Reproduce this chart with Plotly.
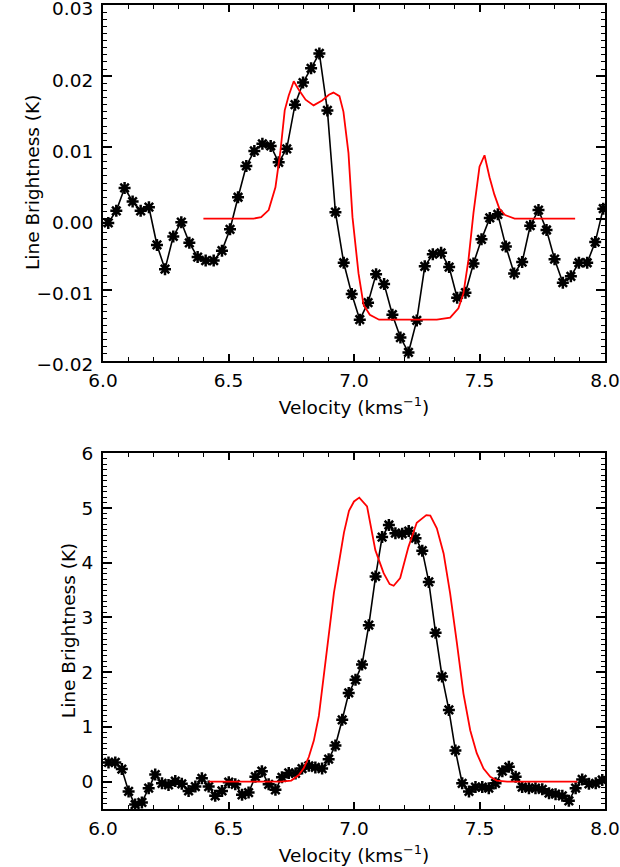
import plotly.graph_objects as go

# painel superior: espectro observado (asteriscos) e modelo (vermelho)
vel_sup = [6.021, 6.053, 6.086, 6.118, 6.150, 6.183, 6.215, 6.247, 6.280, 6.312,
           6.344, 6.377, 6.409, 6.441, 6.474, 6.506, 6.538, 6.571, 6.603, 6.635,
           6.668, 6.700, 6.732, 6.765, 6.797, 6.829, 6.862, 6.894, 6.926, 6.959,
           6.991, 7.023, 7.056, 7.088, 7.120, 7.153, 7.185, 7.217, 7.250, 7.282,
           7.314, 7.347, 7.379, 7.411, 7.444, 7.476, 7.508, 7.541, 7.573, 7.605,
           7.638, 7.670, 7.702, 7.735, 7.767, 7.799, 7.832, 7.864, 7.896, 7.929,
           7.961, 7.993]
tb_sup = [-0.0006, 0.0011, 0.0043, 0.0024, 0.0011, 0.0016, -0.0037, -0.0071, -0.0025, -0.0005,
          -0.0034, -0.0054, -0.0059, -0.0059, -0.0045, -0.0015, 0.0030, 0.0074, 0.0095, 0.0105,
          0.0102, 0.0079, 0.0098, 0.0160, 0.0191, 0.0211, 0.0232, 0.0152, 0.0009, -0.0062,
          -0.0106, -0.0142, -0.0118, -0.0078, -0.0092, -0.0135, -0.0167, -0.0188, -0.0143, -0.0067,
          -0.0050, -0.0048, -0.0068, -0.0111, -0.0104, -0.0063, -0.0029, 0.0001, 0.0006, -0.0039,
          -0.0077, -0.0061, -0.0010, 0.0012, -0.0016, -0.0057, -0.0090, -0.0081, -0.0062, -0.0062,
          -0.0033, 0.0014]

vel_mod_sup = [6.40, 6.60, 6.63, 6.66, 6.687, 6.707, 6.724, 6.740, 6.760, 6.780,
               6.807, 6.839, 6.873, 6.900, 6.918, 6.942, 6.958, 6.978, 6.994, 7.018,
               7.038, 7.063, 7.10, 7.33, 7.383, 7.416, 7.436, 7.456, 7.476, 7.500,
               7.520, 7.540, 7.559, 7.579, 7.602, 7.64, 7.881]
tb_mod_sup = [0.0, 0.0, 0.0002, 0.0012, 0.0044, 0.0095, 0.0152, 0.0173, 0.0193, 0.0181,
              0.0167, 0.0159, 0.0166, 0.0174, 0.0177, 0.0172, 0.0150, 0.0092, 0.0002, -0.0077,
              -0.0121, -0.0135, -0.0142, -0.0142, -0.0139, -0.0126, -0.0105, -0.0058, 0.0008, 0.0073,
              0.0089, 0.0058, 0.0034, 0.0014, 0.0005, 0.0, 0.0]

# painel inferior
vel_inf = [6.022, 6.049, 6.075, 6.102, 6.128, 6.155, 6.182, 6.208, 6.235, 6.261,
           6.288, 6.314, 6.341, 6.368, 6.394, 6.421, 6.447, 6.474, 6.501, 6.527,
           6.554, 6.580, 6.607, 6.633, 6.660, 6.687, 6.713, 6.740, 6.767, 6.793,
           6.820, 6.846, 6.873, 6.899, 6.926, 6.953, 6.979, 7.006, 7.032, 7.059,
           7.086, 7.112, 7.139, 7.165, 7.192, 7.218, 7.245, 7.272, 7.298, 7.325,
           7.351, 7.378, 7.404, 7.431, 7.458, 7.484, 7.511, 7.537, 7.564, 7.591,
           7.617, 7.644, 7.670, 7.697, 7.723, 7.750, 7.777, 7.803, 7.830, 7.856,
           7.883, 7.909, 7.936, 7.963, 7.989]
tb_inf = [0.35, 0.35, 0.23, -0.18, -0.42, -0.38, -0.12, 0.13, -0.03, -0.06,
          0.01, -0.04, -0.17, -0.09, 0.06, -0.09, -0.26, -0.17, -0.01, -0.05,
          -0.24, -0.20, 0.09, 0.19, -0.05, -0.15, 0.08, 0.16, 0.15, 0.24,
          0.29, 0.26, 0.24, 0.41, 0.66, 1.13, 1.62, 1.86, 2.14, 2.86,
          3.75, 4.47, 4.69, 4.54, 4.53, 4.58, 4.45, 4.22, 3.65, 2.72,
          1.92, 1.31, 0.57, -0.03, -0.18, -0.10, -0.10, -0.12, -0.03, 0.19,
          0.27, 0.09, -0.10, -0.12, -0.12, -0.14, -0.21, -0.23, -0.26, -0.35,
          -0.12, 0.04, -0.04, -0.03, 0.03]

vel_mod_inf = [6.421, 6.71, 6.75, 6.78, 6.80, 6.82, 6.84, 6.86, 6.88, 6.90,
               6.92, 6.94, 6.96, 6.98, 7.00, 7.021, 7.052, 7.085, 7.118, 7.142,
               7.158, 7.184, 7.217, 7.250, 7.288, 7.304, 7.330, 7.357, 7.383, 7.410,
               7.436, 7.463, 7.489, 7.516, 7.543, 7.569, 7.61, 7.89]
tb_mod_inf = [0.0, 0.0, 0.02, 0.12, 0.25, 0.45, 0.75, 1.20, 1.95, 2.75,
              3.45, 4.00, 4.55, 4.95, 5.12, 5.19, 5.03, 4.23, 3.81, 3.61,
              3.58, 3.72, 4.29, 4.73, 4.87, 4.86, 4.63, 4.17, 3.44, 2.53,
              1.61, 0.94, 0.52, 0.24, 0.09, 0.02, 0.0, 0.0]

FONTE = dict(family="DejaVu Sans, Liberation Sans, sans-serif", size=18.5, color="black")

fig = go.Figure()

def obs(x, y, eixo):
    return go.Scatter(x=x, y=y, xaxis="x" + eixo, yaxis="y" + eixo, mode="lines+markers",
                      line=dict(color="black", width=1.6),
                      marker=dict(symbol="asterisk-open", size=10, color="black",
                                  line=dict(color="black", width=2.5)),
                      showlegend=False)

def modelo(x, y, eixo):
    return go.Scatter(x=x, y=y, xaxis="x" + eixo, yaxis="y" + eixo, mode="lines",
                      line=dict(color="#ff0000", width=1.8), showlegend=False)

fig.add_trace(obs(vel_sup, tb_sup, ""))
fig.add_trace(modelo(vel_mod_sup, tb_mod_sup, ""))
fig.add_trace(obs(vel_inf, tb_inf, "2"))
fig.add_trace(modelo(vel_mod_inf, tb_mod_inf, "2"))

eixo_base = dict(showline=True, linewidth=2, linecolor="black", mirror="allticks",
                 ticks="inside", tickcolor="black", tickwidth=1.5, showgrid=False,
                 zeroline=False, tickfont=FONTE, automargin=False, ticklabeloverflow="allow")

eixo_x = dict(eixo_base, range=[6.0, 8.0], dtick=0.5, tick0=6.0, tickformat=".1f", ticklen=7,
              ticklabelstandoff=2,
              minor=dict(ticks="inside", dtick=0.1, ticklen=4, tickcolor="black", tickwidth=1.3),
              title=dict(text="Velocity (kms<sup>\u22121</sup>)", font=FONTE, standoff=11))

fig.update_layout(
    width=620, height=867,
    margin=dict(l=103, r=15, t=5, b=58),
    paper_bgcolor="white", plot_bgcolor="white",
    xaxis=dict(eixo_x, domain=[0, 1], anchor="y"),
    yaxis=dict(eixo_base, domain=[0.5572, 1.0], anchor="x", range=[-0.02, 0.03],
               dtick=0.01, tickformat=".2f", ticklen=9, ticklabelstandoff=4, ticklabelshift=4,
               minor=dict(ticks="inside", dtick=0.001, ticklen=4, tickcolor="black", tickwidth=1.3)),
    xaxis2=dict(eixo_x, domain=[0, 1], anchor="y2"),
    yaxis2=dict(eixo_base, domain=[0.0, 0.4424], anchor="x2", range=[-0.5, 6.0],
                dtick=1, tick0=0, tickformat="d", ticklen=9, ticklabelstandoff=4,
                minor=dict(ticks="inside", dtick=0.1, ticklen=4, tickcolor="black", tickwidth=1.3)),
)

# títulos do eixo y como anotações (posição igual à do original)
fig.add_annotation(text="Line Brightness (K)", textangle=-90, font=FONTE, showarrow=False,
                   xref="paper", yref="paper", x=-0.1414, y=0.7786, xanchor="center", yanchor="middle")
fig.add_annotation(text="Line Brightness (K)", textangle=-90, font=FONTE, showarrow=False,
                   xref="paper", yref="paper", x=-0.0697, y=0.2212, xanchor="center", yanchor="middle")

fig.write_html("out.html", config={"displayModeBar": False},
               post_script="document.body.style.margin='0';")
